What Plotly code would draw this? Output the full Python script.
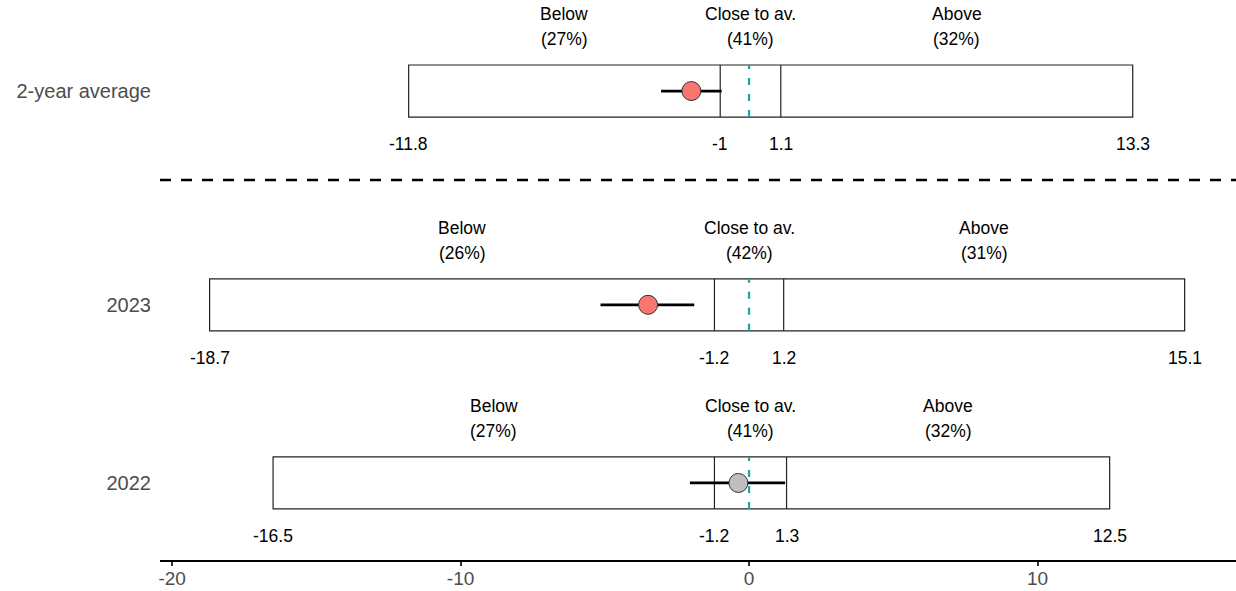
import plotly.graph_objects as go

# ---- data ----
rows = ["2022", "2023", "2-year average"]
row_pos = [0.0, 1.0, 2.2]
lower = [-16.5, -18.7, -11.8]
close_lo = [-1.2, -1.2, -1.0]
close_hi = [1.3, 1.2, 1.1]
upper = [12.5, 15.1, 13.3]
pct_below = [27, 26, 27]
pct_close = [41, 42, 41]
pct_above = [32, 31, 32]
estimate = [-0.37, -3.5, -2.0]
ci_lo = [-2.05, -5.15, -3.05]
ci_hi = [1.25, -1.9, -0.95]
point_colors = ["#BEBEBE", "#F8766D", "#F8766D"]
x_ticks = [-20, -10, 0, 10]
separator_y = 1.7

# ---- styling ----
HALF = 0.146
LAB1 = 0.433
LAB2 = 0.292
NUM = -0.298
FONT = "Liberation Sans, Arial, sans-serif"

fig = go.Figure()

shapes = []
annotations = []
for i, r in enumerate(row_pos):
    # outer box
    shapes.append(dict(type="rect", xref="x", yref="y", x0=lower[i], x1=upper[i],
                       y0=r - HALF, y1=r + HALF, line=dict(color="#222222", width=1.2),
                       fillcolor="rgba(0,0,0,0)", layer="below"))
    for v in (close_lo[i], close_hi[i]):
        shapes.append(dict(type="line", xref="x", yref="y", x0=v, x1=v,
                           y0=r - HALF, y1=r + HALF, line=dict(color="#222222", width=1.2),
                           layer="below"))
    # zero dashed line
    shapes.append(dict(type="line", xref="x", yref="y", x0=0, x1=0,
                       y0=r - HALF, y1=r + HALF,
                       line=dict(color="#1FA59C", width=2.2, dash="7px,9px"), layer="below"))
    # region labels
    centers = [(lower[i] + close_lo[i]) / 2, (close_lo[i] + close_hi[i]) / 2,
               (close_hi[i] + upper[i]) / 2]
    names = ["Below", "Close to av.", "Above"]
    pcts = [pct_below[i], pct_close[i], pct_above[i]]
    for c, n, p in zip(centers, names, pcts):
        annotations.append(dict(x=c, y=r + LAB1, xref="x", yref="y", text=n, showarrow=False,
                                font=dict(size=17.5, color="black", family=FONT)))
        annotations.append(dict(x=c, y=r + LAB2, xref="x", yref="y", text=f"({p}%)",
                                showarrow=False,
                                font=dict(size=17.5, color="black", family=FONT)))
    for v in (lower[i], close_lo[i], close_hi[i], upper[i]):
        annotations.append(dict(x=v, y=r + NUM, xref="x", yref="y", text=f"{v:g}",
                                showarrow=False,
                                font=dict(size=17.5, color="black", family=FONT)))

# separator
shapes.append(dict(type="line", xref="paper", yref="y", x0=0, x1=1,
                   y0=separator_y, y1=separator_y,
                   line=dict(color="black", width=2.5, dash="11px,10px")))

# error bars
ex, ey = [], []
for i, r in enumerate(row_pos):
    ex += [ci_lo[i], ci_hi[i], None]
    ey += [r, r, None]
fig.add_trace(go.Scatter(x=ex, y=ey, mode="lines", line=dict(color="black", width=2.8),
                         hoverinfo="skip", showlegend=False))
fig.add_trace(go.Scatter(x=estimate, y=row_pos, mode="markers",
                         marker=dict(size=19, color=point_colors,
                                     line=dict(color="#333333", width=1)),
                         showlegend=False))

fig.update_layout(
    width=1236, height=591,
    margin=dict(l=160, r=0, t=0, b=31),
    plot_bgcolor="white", paper_bgcolor="white",
    shapes=shapes, annotations=annotations,
    font=dict(family=FONT),
    xaxis=dict(range=[-20.42, 16.88], tickvals=x_ticks, ticktext=[str(t) for t in x_ticks],
               showgrid=False, zeroline=False, showline=True, linecolor="black", linewidth=2,
               ticks="outside", ticklen=4, tickwidth=2, tickcolor="#333333",
               ticklabelstandoff=-4,
               tickfont=dict(size=19, color="#4D4D4D", family=FONT), automargin=False),
    yaxis=dict(range=[-0.4326, 2.711], tickvals=row_pos, ticktext=rows,
               showgrid=False, zeroline=False, showline=False, ticks="",
               ticklabelstandoff=8,
               tickfont=dict(size=20, color="#4D4D4D", family=FONT), automargin=False),
)

fig.write_html("out.html", config={"displayModeBar": False},
               post_script="document.body.style.margin='0';document.body.style.overflow='hidden';")
